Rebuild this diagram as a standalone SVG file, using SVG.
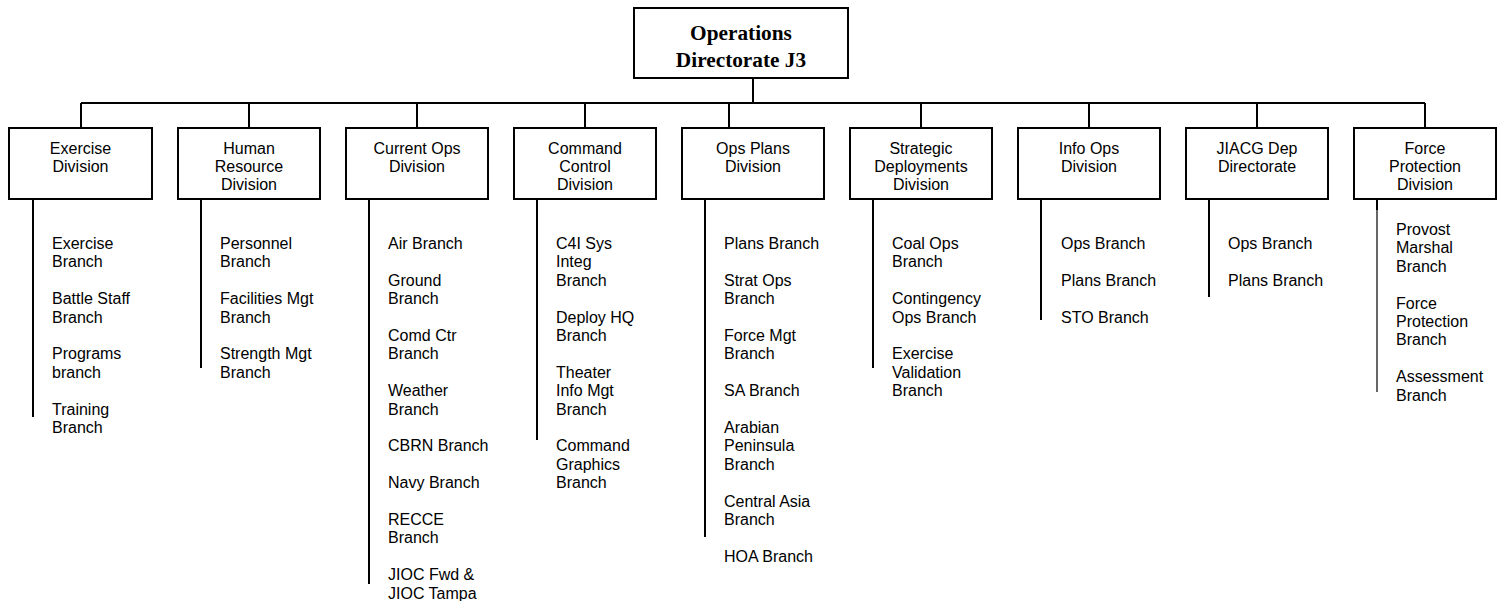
<svg xmlns="http://www.w3.org/2000/svg" width="1502" height="601" viewBox="0 0 1502 601">
<style>
.box{fill:#fff;stroke:#000;stroke-width:2}
.ln{stroke:#000;stroke-width:2;fill:none}
.ln1{stroke:#000;stroke-width:1.2;fill:none}
.top{font-family:"Liberation Serif",serif;font-weight:bold;font-size:21.3px;text-anchor:middle}
.dv{font-family:"Liberation Sans",Arial,sans-serif;font-size:16px;text-anchor:middle}
.br{font-family:"Liberation Sans",Arial,sans-serif;font-size:16px}
</style>
<rect width="1502" height="601" fill="#fff"/>
<g id="connectors">
<path class="ln" d="M753 79V103M81 103H1425M81 103V127M249 103V127M417 103V127M585 103V127M729 103V127M921 103V127M1089 103V127M1257 103V127M1425 103V127"/>
<path class="ln" d="M33 199V417M201 199V368M369 199V584M537 199V440M705 199V537M873 199V368M1041 199V320M1209 199V297M1377 199V210"/>
<path class="ln1" d="M1377 209V392"/>
</g>
<g id="n-ops">
<rect class="box" x="634" y="8" width="214" height="70"/>
<text class="top" x="741" y="39.5">Operations</text>
<text class="top" x="741" y="67">Directorate J3</text>
</g>
<g id="n-exercise">
<rect class="box" x="9" y="128" width="143" height="71"/>
<text class="dv" x="80.5" y="153.5">Exercise</text><text class="dv" x="80.5" y="171.9">Division</text>
<text class="br" x="52" y="249"><tspan x="52" dy="0">Exercise</tspan><tspan x="52" dy="18.4">Branch</tspan><tspan x="52" dy="36.8">Battle Staff</tspan><tspan x="52" dy="18.4">Branch</tspan><tspan x="52" dy="36.8">Programs</tspan><tspan x="52" dy="18.4">branch</tspan><tspan x="52" dy="36.8">Training</tspan><tspan x="52" dy="18.4">Branch</tspan></text>
</g>
<g id="n-human">
<rect class="box" x="178" y="128" width="142" height="71"/>
<text class="dv" x="249" y="153.5">Human</text><text class="dv" x="249" y="171.9">Resource</text><text class="dv" x="249" y="190.3">Division</text>
<text class="br" x="220" y="249"><tspan x="220" dy="0">Personnel</tspan><tspan x="220" dy="18.4">Branch</tspan><tspan x="220" dy="36.8">Facilities Mgt</tspan><tspan x="220" dy="18.4">Branch</tspan><tspan x="220" dy="36.8">Strength Mgt</tspan><tspan x="220" dy="18.4">Branch</tspan></text>
</g>
<g id="n-current">
<rect class="box" x="346" y="128" width="142" height="71"/>
<text class="dv" x="417" y="153.5">Current Ops</text><text class="dv" x="417" y="171.9">Division</text>
<text class="br" x="388" y="249"><tspan x="388" dy="0">Air Branch</tspan><tspan x="388" dy="36.8">Ground</tspan><tspan x="388" dy="18.4">Branch</tspan><tspan x="388" dy="36.8">Comd Ctr</tspan><tspan x="388" dy="18.4">Branch</tspan><tspan x="388" dy="36.8">Weather</tspan><tspan x="388" dy="18.4">Branch</tspan><tspan x="388" dy="36.8">CBRN Branch</tspan><tspan x="388" dy="36.8">Navy Branch</tspan><tspan x="388" dy="36.8">RECCE</tspan><tspan x="388" dy="18.4">Branch</tspan><tspan x="388" dy="36.8">JIOC Fwd &amp;</tspan><tspan x="388" dy="18.4">JIOC Tampa</tspan></text>
</g>
<g id="n-command">
<rect class="box" x="514" y="128" width="142" height="71"/>
<text class="dv" x="585" y="153.5">Command</text><text class="dv" x="585" y="171.9">Control</text><text class="dv" x="585" y="190.3">Division</text>
<text class="br" x="556" y="249"><tspan x="556" dy="0">C4I Sys</tspan><tspan x="556" dy="18.4">Integ</tspan><tspan x="556" dy="18.4">Branch</tspan><tspan x="556" dy="36.8">Deploy HQ</tspan><tspan x="556" dy="18.4">Branch</tspan><tspan x="556" dy="36.8">Theater</tspan><tspan x="556" dy="18.4">Info Mgt</tspan><tspan x="556" dy="18.4">Branch</tspan><tspan x="556" dy="36.8">Command</tspan><tspan x="556" dy="18.4">Graphics</tspan><tspan x="556" dy="18.4">Branch</tspan></text>
</g>
<g id="n-opsplans">
<rect class="box" x="682" y="128" width="142" height="71"/>
<text class="dv" x="753" y="153.5">Ops Plans</text><text class="dv" x="753" y="171.9">Division</text>
<text class="br" x="724" y="249"><tspan x="724" dy="0">Plans Branch</tspan><tspan x="724" dy="36.8">Strat Ops</tspan><tspan x="724" dy="18.4">Branch</tspan><tspan x="724" dy="36.8">Force Mgt</tspan><tspan x="724" dy="18.4">Branch</tspan><tspan x="724" dy="36.8">SA Branch</tspan><tspan x="724" dy="36.8">Arabian</tspan><tspan x="724" dy="18.4">Peninsula</tspan><tspan x="724" dy="18.4">Branch</tspan><tspan x="724" dy="36.8">Central Asia</tspan><tspan x="724" dy="18.4">Branch</tspan><tspan x="724" dy="36.8">HOA Branch</tspan></text>
</g>
<g id="n-strategic">
<rect class="box" x="850" y="128" width="142" height="71"/>
<text class="dv" x="921" y="153.5">Strategic</text><text class="dv" x="921" y="171.9">Deployments</text><text class="dv" x="921" y="190.3">Division</text>
<text class="br" x="892" y="249"><tspan x="892" dy="0">Coal Ops</tspan><tspan x="892" dy="18.4">Branch</tspan><tspan x="892" dy="36.8">Contingency</tspan><tspan x="892" dy="18.4">Ops Branch</tspan><tspan x="892" dy="36.8">Exercise</tspan><tspan x="892" dy="18.4">Validation</tspan><tspan x="892" dy="18.4">Branch</tspan></text>
</g>
<g id="n-infoops">
<rect class="box" x="1018" y="128" width="142" height="71"/>
<text class="dv" x="1089" y="153.5">Info Ops</text><text class="dv" x="1089" y="171.9">Division</text>
<text class="br" x="1061" y="249"><tspan x="1061" dy="0">Ops Branch</tspan><tspan x="1061" dy="36.8">Plans Branch</tspan><tspan x="1061" dy="36.8">STO Branch</tspan></text>
</g>
<g id="n-jiacg">
<rect class="box" x="1186" y="128" width="142" height="71"/>
<text class="dv" x="1257" y="153.5">JIACG Dep</text><text class="dv" x="1257" y="171.9">Directorate</text>
<text class="br" x="1228" y="249"><tspan x="1228" dy="0">Ops Branch</tspan><tspan x="1228" dy="36.8">Plans Branch</tspan></text>
</g>
<g id="n-force">
<rect class="box" x="1354" y="128" width="142" height="71"/>
<text class="dv" x="1425" y="153.5">Force</text><text class="dv" x="1425" y="171.9">Protection</text><text class="dv" x="1425" y="190.3">Division</text>
<text class="br" x="1396" y="235"><tspan x="1396" dy="0">Provost</tspan><tspan x="1396" dy="18.4">Marshal</tspan><tspan x="1396" dy="18.4">Branch</tspan><tspan x="1396" dy="36.8">Force</tspan><tspan x="1396" dy="18.4">Protection</tspan><tspan x="1396" dy="18.4">Branch</tspan><tspan x="1396" dy="36.8">Assessment</tspan><tspan x="1396" dy="18.4">Branch</tspan></text>
</g>
</svg>
